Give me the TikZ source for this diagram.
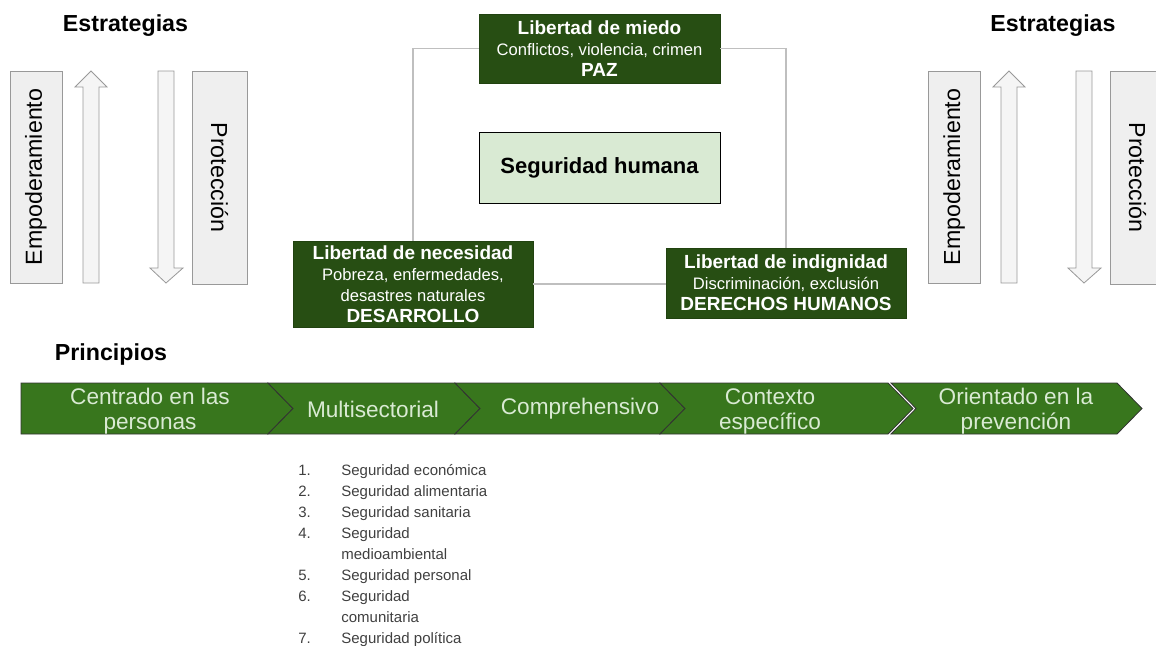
\documentclass[tikz,border=0pt]{standalone}
\usepackage{fontspec}
\setmainfont{Liberation Sans}
\usepackage{xcolor}
\usetikzlibrary{calc}

\definecolor{deepgreen}{HTML}{274E13}
\definecolor{midgreen}{HTML}{38761D}
\definecolor{palegreen}{HTML}{D9EAD3}
\definecolor{panelgray}{HTML}{EFEFEF}
\definecolor{edgegray}{HTML}{999999}

\newcommand{\boxtitle}[1]{{\fontsize{9.5}{10.5}\bfseries\selectfont #1}}

\tikzset{
  libbox/.style={draw=deepgreen!85!black, fill=deepgreen, text=white, align=center,
    inner sep=0pt, minimum width=120pt, font=\fontsize{8.3}{10.5}\selectfont},
  sidebox/.style={draw=edgegray, fill=panelgray, inner sep=0pt,
    font=\fontsize{11.6}{14}\selectfont},
  blockarrow/.style={draw=edgegray, fill=panelgray!60!white},
  chevron/.style={draw=black!80, fill=midgreen},
  chevtext/.style={text=palegreen, align=center, inner sep=0pt,
    font=\fontsize{11.3}{12.5}\selectfont},
  heading/.style={font=\fontsize{11.6}{14}\bfseries\selectfont, inner sep=0pt, anchor=base},
  frameline/.style={draw=black!25, line width=0.6pt},
  listtext/.style={text=black!75, font=\fontsize{7.5}{10.5}\selectfont, inner sep=0pt, anchor=base west}
}

\begin{document}
\begin{tikzpicture}[x=0.5pt,y=-0.5pt]
\useasboundingbox (0,0) rectangle (1156,645);

% estrategias, left and right
\foreach \dx/\side/\hx in {0/L/125.5, 918/R/1053}{
  \node[heading] (estr\side) at (\hx,31) {Estrategias};
  \node[sidebox, rotate=90, minimum width=106pt, minimum height=26pt] (emp\side) at (\dx+36,177) {Empoderamiento};
  \node[sidebox, rotate=-90, minimum width=106.5pt, minimum height=27.5pt] (prot\side) at (\dx+219.5,177.5) {Protección};
  \draw[blockarrow] (\dx+83,283) -- (\dx+83,87) -- (\dx+75,87) -- (\dx+91,71) -- (\dx+107,87) -- (\dx+99,87) -- (\dx+99,283) -- cycle;
  \draw[blockarrow] (\dx+158,71) -- (\dx+158,268) -- (\dx+150,268) -- (\dx+166,283) -- (\dx+183,268) -- (\dx+174,268) -- (\dx+174,71) -- cycle;
}

% centro
\node[libbox, minimum width=120.5pt, minimum height=34.5pt] (miedo) at (599.5,48.5)
  {\boxtitle{Libertad de miedo}\\Conflictos, violencia, crimen\\\boxtitle{PAZ}};
\node[draw=black, fill=palegreen, minimum width=120.5pt, minimum height=35.5pt, inner sep=0pt,
  font=\fontsize{11}{13}\bfseries\selectfont] (humana) at (599.5,167.5) {Seguridad humana};
\node[libbox, minimum height=43pt] (necesidad) at (413,284)
  {\boxtitle{Libertad de necesidad}\\Pobreza, enfermedades,\\desastres naturales\\\boxtitle{DESARROLLO}};
\node[libbox, minimum height=35pt] (indignidad) at (786,283)
  {\boxtitle{Libertad de indignidad}\\Discriminación, exclusión\\\boxtitle{DERECHOS HUMANOS}};

\draw[frameline] (miedo.west) -| (necesidad.north);
\draw[frameline] (miedo.east) -| (indignidad.north);
\draw[frameline] (necesidad.east) -- (necesidad.east -| indignidad.west);

% principios
\node[heading] (princ) at (111,360) {Principios};
\foreach \a/\b/\n in {21/268/0, 268/455/25, 455/660/25, 660/888/25, 891/1117/25}
  \draw[chevron] (\a,383) -- (\b,383) -- (\b+25,408.5) -- (\b,434) -- (\a,434) -- (\a+\n,408.5) -- cycle;
\foreach \x/\y/\txt [count=\i] in {150/411/{Centrado en las\\personas}, 373/409/Multisectorial,
    580/409/Comprehensivo, 770/411/{Contexto\\específico}, 1016/411/{Orientado en la\\prevención}}
  \node[chevtext] (prin\i) at (\x,\y) {\txt};

% lista
\foreach \num/\txt [count=\r from 0] in {1./Seguridad económica, 2./Seguridad alimentaria,
    3./Seguridad sanitaria, 4./Seguridad, /medioambiental, 5./Seguridad personal,
    6./Seguridad, /comunitaria, 7./Seguridad política}{
  \node[listtext] (num\r) at (298,475+21*\r) {\num};
  \node[listtext] (item\r) at (341,475+21*\r) {\txt};
}
\end{tikzpicture}
\end{document}
